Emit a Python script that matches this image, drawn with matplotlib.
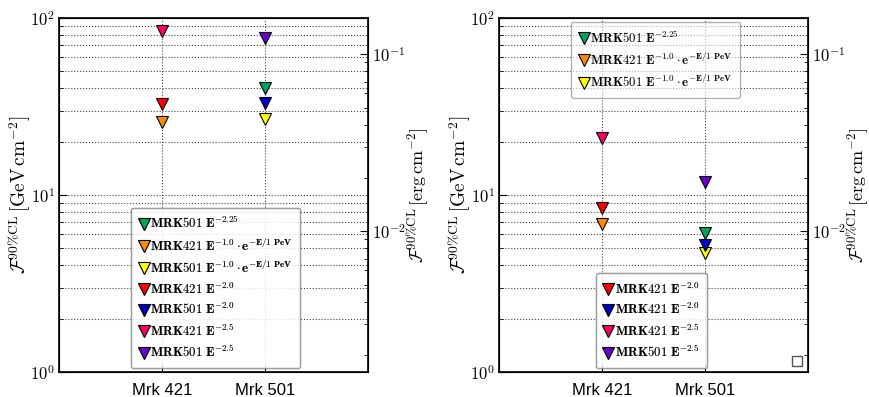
import numpy as np
import matplotlib
matplotlib.use("Agg")
import matplotlib.pyplot as plt
from matplotlib.ticker import LogLocator, NullFormatter, FuncFormatter
from matplotlib.legend import Legend

plt.rcParams['mathtext.fontset'] = 'cm'
plt.rcParams['font.family'] = ['Liberation Sans', 'DejaVu Sans']

sources = ['Mrk 421', 'Mrk 501']

labels = [
    r'$\mathbf{MRK501\ E^{-2.25}}$',
    r'$\mathbf{MRK421\ E^{-1.0}\cdot e^{-E/1\ PeV}}$',
    r'$\mathbf{MRK501\ E^{-1.0}\cdot e^{-E/1\ PeV}}$',
    r'$\mathbf{MRK421\ E^{-2.0}}$',
    r'$\mathbf{MRK501\ E^{-2.0}}$',
    r'$\mathbf{MRK421\ E^{-2.5}}$',
    r'$\mathbf{MRK501\ E^{-2.5}}$',
]
labels_right = [
    r'$\mathbf{MRK501\ E^{-2.25}}$',
    r'$\mathbf{MRK421\ E^{-1.0}\cdot e^{-E/1\ PeV}}$',
    r'$\mathbf{MRK501\ E^{-1.0}\cdot e^{-E/1\ PeV}}$',
    r'$\mathbf{MRK421\ E^{-2.0}}$',
    r'$\mathbf{MRK421\ E^{-2.0}}$',
    r'$\mathbf{MRK421\ E^{-2.5}}$',
    r'$\mathbf{MRK501\ E^{-2.5}}$',
]
series_source = ['Mrk 501', 'Mrk 421', 'Mrk 501', 'Mrk 421', 'Mrk 501', 'Mrk 421', 'Mrk 501']
colors = ['#00a65a', '#ff8c00', '#ffff00', '#ff0000', '#0000cc', '#ff0066', '#6a00cc']

left_values = [40.1, 25.8, 26.8, 32.6, 33.0, 84.0, 77.0]
right_values = [6.1, 6.9, 4.72, 8.4, 5.25, 20.9, 11.8]

GEV_PER_ERG = 624.15

fig = plt.figure(figsize=(8.69, 3.97), dpi=100)
ax1 = fig.add_axes([0.0679, 0.063, 0.3556, 0.8917])
ax2 = fig.add_axes([0.5742, 0.063, 0.3556, 0.8917])

def pow10(v, pos):
    e = int(round(np.log10(v)))
    return r'$10^{%d}$' % e

def setup(ax, vals, labs):
    handles = []
    for lab, src, v, c in zip(labs, series_source, vals, colors):
        x = sources.index(src) + 1
        h, = ax.plot([x], [v], linestyle='none', marker='v', markersize=8,
                     markerfacecolor=c, markeredgecolor='black', markeredgewidth=0.8,
                     label=lab, zorder=5)
        handles.append(h)
    ax.set_yscale('log')
    ax.set_ylim(1, 100)
    ax.set_xlim(0, 3)
    ax.set_xticks([1, 2])
    ax.set_xticklabels(sources, fontsize=12)
    ax.yaxis.set_major_locator(LogLocator(base=10))
    ax.yaxis.set_minor_locator(LogLocator(base=10, subs=np.arange(2, 10)))
    ax.yaxis.set_major_formatter(FuncFormatter(pow10))
    ax.yaxis.set_minor_formatter(NullFormatter())
    ax.grid(True, which='both', axis='y', linestyle=':', color='#444444', linewidth=0.8)
    ax.grid(True, which='major', axis='x', linestyle=':', color='#444444', linewidth=0.8)
    ax.tick_params(axis='both', which='both', direction='in')
    ax.tick_params(axis='y', which='major', length=6, labelsize=12, pad=3)
    ax.tick_params(axis='y', which='minor', length=3)
    ax.tick_params(axis='x', length=6, pad=8)
    ax.set_ylabel(r'$\mathcal{F}^{90\%\mathrm{CL}}\,[\mathrm{GeV\,cm^{-2}}]$', fontsize=14, labelpad=-2)
    for s in ax.spines.values():
        s.set_linewidth(1.2)

    twin = ax.twinx()
    twin.set_yscale('log')
    twin.set_ylim(1 / GEV_PER_ERG, 100 / GEV_PER_ERG)
    twin.tick_params(axis='y', which='both', direction='in')
    twin.tick_params(axis='y', which='major', length=6, labelsize=12, pad=3)
    twin.tick_params(axis='y', which='minor', length=3)
    twin.yaxis.set_major_formatter(FuncFormatter(pow10))
    twin.yaxis.set_minor_formatter(NullFormatter())
    twin.set_ylabel(r'$\mathcal{F}^{90\%\mathrm{CL}}\,[\mathrm{erg\,cm^{-2}}]$', fontsize=13, labelpad=0)
    return handles

h1 = setup(ax1, left_values, labels)
h2 = setup(ax2, right_values, labels_right)

legkw = dict(numpoints=1, fontsize=9.3, handlelength=0.8, handletextpad=0.1,
             framealpha=0.6, edgecolor='grey', fancybox=True, borderpad=0.6,
             labelspacing=0.42, borderaxespad=0.3)

leg1 = ax1.legend(handles=h1, loc='lower left', bbox_to_anchor=(0.22, 0.0), **legkw)
ax1.add_artist(leg1)

legA = ax2.legend(handles=h2[:3], loc='upper left', bbox_to_anchor=(0.22, 1.0), **legkw)
ax2.add_artist(legA)
legB = ax2.legend(handles=h2[3:], loc='lower left', bbox_to_anchor=(0.30, 0.0), **legkw)
ax2.add_artist(legB)
legC = Legend(ax2, [], [], loc='lower right', framealpha=1.0, edgecolor='#555555',
              fancybox=False, borderpad=0.35, borderaxespad=0.45)
ax2.add_artist(legC)

fig.savefig('out.png', dpi=100)
